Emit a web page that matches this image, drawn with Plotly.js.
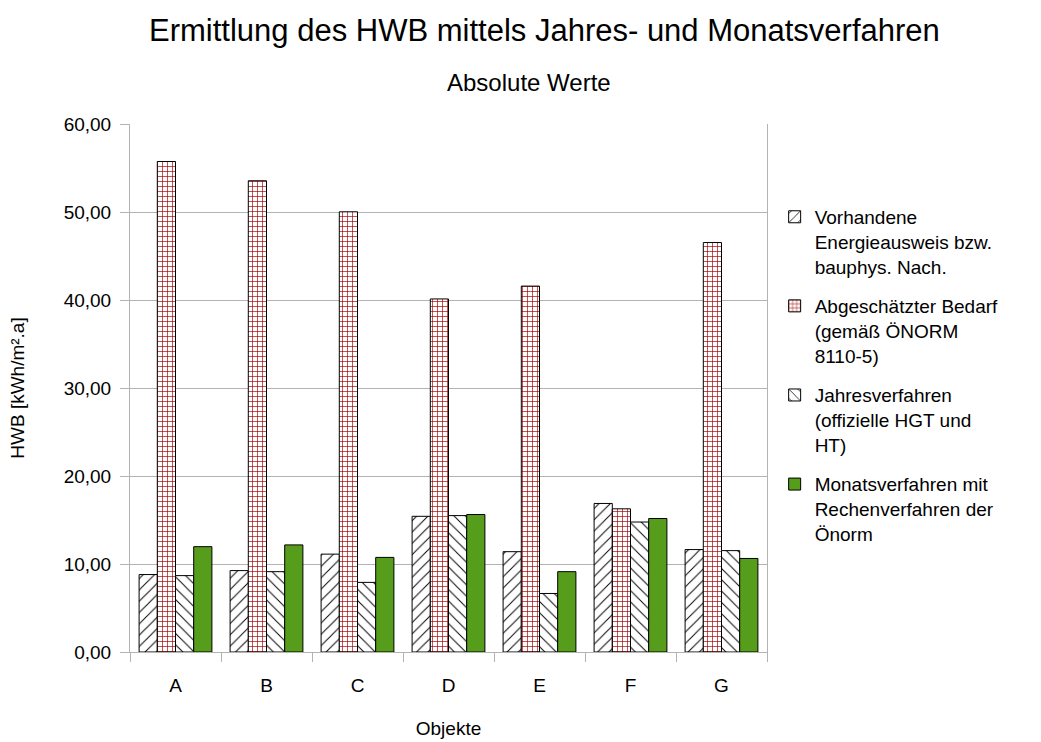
<!DOCTYPE html>
<html>
<head>
<meta charset="utf-8">
<script src="https://cdn.plot.ly/plotly-3.0.1.min.js"></script>
<style>
  html, body { margin: 0; padding: 0; background: #fff; }
  #chart { width: 1041px; height: 742px; }
</style>
</head>
<body>
<div id="chart"></div>
<script>
const objekte = ["A", "B", "C", "D", "E", "F", "G"];

const vorhanden = [8.80, 9.25, 11.12, 15.42, 11.40, 16.88, 11.64];
const abgeschaetzt = [55.74, 53.55, 50.02, 40.12, 41.58, 16.27, 46.53];
const jahresverfahren = [8.68, 9.13, 7.91, 15.50, 6.65, 14.77, 11.52];
const monatsverfahren = [11.97, 12.17, 10.75, 15.62, 9.13, 15.17, 10.63];

const namen = [
  "Vorhandene<br>Energieausweis bzw.<br>bauphys. Nach.",
  "Abgeschätzter Bedarf<br>(gemäß ÖNORM<br>8110-5)",
  "Jahresverfahren<br>(offizielle HGT und<br>HT)",
  "Monatsverfahren mit<br>Rechenverfahren der<br>Önorm"
];

const schrift = "Liberation Sans, Arial, sans-serif";
const rand = { color: "#000", width: 1 };

const traces = [
  {
    x: objekte, y: vorhanden, name: namen[0], legendgroup: "g1",
    marker: { color: "#fff", line: rand,
      pattern: { shape: "/", fgcolor: "#000", bgcolor: "#fff", size: 8, solidity: 0.12 } }
  },
  {
    x: objekte, y: abgeschaetzt, name: namen[1], legendgroup: "g2",
    marker: { color: "#fff", line: rand,
      pattern: { shape: "+", fgcolor: "#a00000", bgcolor: "#fff", size: 5, solidity: 0.25 } }
  },
  {
    x: objekte, y: jahresverfahren, name: namen[2], legendgroup: "g3",
    marker: { color: "#fff", line: rand,
      pattern: { shape: "\\", fgcolor: "#000", bgcolor: "#fff", size: 8, solidity: 0.12 } }
  },
  {
    x: objekte, y: monatsverfahren, name: namen[3], legendgroup: "g4",
    marker: { color: "#579d1c", line: rand }
  }
].map(t => Object.assign({ type: "bar", hoverinfo: "y" }, t));

const layout = {
  width: 1041,
  height: 742,
  paper_bgcolor: "#fff",
  plot_bgcolor: "#fff",
  font: { family: schrift, size: 19, color: "#000" },
  separators: ",.",
  margin: { l: 130, r: 274, t: 124, b: 90 },
  title: {
    text: "Ermittlung des HWB mittels Jahres- und Monatsverfahren",
    font: { size: 31, family: schrift },
    xref: "container", x: 0.523, xanchor: "center",
    yref: "container", y: 0.96, yanchor: "middle"
  },
  annotations: [{
    text: "Absolute Werte",
    xref: "paper", yref: "paper",
    x: 0.626, y: 1.0795, xanchor: "center", yanchor: "middle",
    showarrow: false, font: { size: 24, family: schrift }
  }],
  barmode: "group",
  bargap: 0.2,
  bargroupgap: 0,
  xaxis: {
    title: { text: "Objekte", font: { size: 19 }, standoff: 26 },
    type: "category",
    tickson: "boundaries",
    ticks: "outside",
    ticklen: 9,
    tickcolor: "#b3b3b3",
    ticklabelstandoff: 16,
    showgrid: false,
    showline: true,
    linecolor: "#b3b3b3",
    tickfont: { size: 19 }
  },
  yaxis: {
    title: { text: "HWB [kWh/m².a]", font: { size: 19 }, standoff: 34 },
    range: [0, 60],
    dtick: 10,
    tickformat: ".2f",
    ticks: "outside",
    ticklen: 9,
    tickcolor: "#b3b3b3",
    ticklabelstandoff: 5,
    showgrid: true,
    gridcolor: "#b3b3b3",
    showline: true,
    linecolor: "#b3b3b3",
    mirror: true,
    zeroline: false,
    tickfont: { size: 19 }
  },
  legend: {
    x: 1.012, y: 0.86, xanchor: "left", yanchor: "top",
    font: { size: 19, family: schrift },
    itemwidth: 30,
    valign: "top",
    tracegroupgap: 12,
    bgcolor: "rgba(0,0,0,0)"
  },
  showlegend: true
};

Plotly.newPlot("chart", traces, layout, { displayModeBar: false, responsive: false });
</script>
</body>
</html>
